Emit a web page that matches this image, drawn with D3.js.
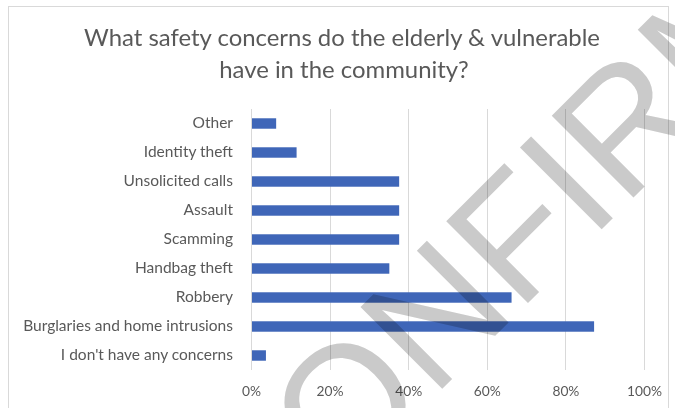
<!DOCTYPE html>
<html>
<head>
<meta charset="utf-8">
<script src="https://cdn.jsdelivr.net/npm/d3@7"></script>
<style>
  html, body { margin: 0; padding: 0; background: #fff; }
  svg { display: block; }
</style>
</head>
<body>
<svg id="chart" width="675" height="408"></svg>
<script>
// Survey responses, share of respondents per concern
const categories = [
  "Other",
  "Identity theft",
  "Unsolicited calls ",
  "Assault",
  "Scamming",
  "Handbag theft",
  "Robbery ",
  "Burglaries and home intrusions",
  "I don't have any concerns"
];
const values = [0.064, 0.116, 0.377, 0.377, 0.377, 0.352, 0.663, 0.873, 0.038];
const tickValues = [0, 0.2, 0.4, 0.6, 0.8, 1.0];
const tickLabels = ["0%", "20%", "40%", "60%", "80%", "100%"];
const titleLines = ["What safety concerns do the elderly & vulnerable", "have in the community?"];
const stampText = "CONFIRMED";

const W = 675, H = 408;
const textColor = "#595959";
const barColor = "#3f66b8";
const gridColor = "#d9d9d9";
const font = "Lato, 'Open Sans', sans-serif";

const svg = d3.select("#chart");

// scale a text element's font size so it spans a given width
function fitWidth(sel, target) {
  const node = sel.node();
  const fs = parseFloat(sel.attr("font-size"));
  const w = node.getComputedTextLength();
  sel.attr("font-size", (fs * target / w).toFixed(2));
}

// chart frame
svg.append("rect")
  .attr("x", 8.5).attr("y", 6.5)
  .attr("width", 660).attr("height", 430)
  .attr("fill", "#fff")
  .attr("stroke", gridColor).attr("stroke-width", 1);

// title
const titleG = svg.append("g").attr("fill", textColor).attr("font-family", font);
const t1 = titleG.append("text").attr("x", 342).attr("y", 46)
  .attr("text-anchor", "middle").attr("font-size", 22).text(titleLines[0]);
fitWidth(t1, 516);
titleG.append("text").attr("x", 344).attr("y", 78)
  .attr("text-anchor", "middle").attr("font-size", t1.attr("font-size")).text(titleLines[1]);

// scales
const x = d3.scaleLinear().domain([0, 1]).range([251, 644]);
const y = d3.scaleBand().domain(categories).range([109, 370]).paddingInner(0.64).paddingOuter(0.32);

// vertical gridlines
svg.append("g")
  .selectAll("line").data(tickValues).join("line")
  .attr("x1", d => Math.round(x(d)) + 0.5).attr("x2", d => Math.round(x(d)) + 0.5)
  .attr("y1", 109).attr("y2", 370)
  .attr("stroke", gridColor).attr("stroke-width", 1);

// bars
svg.append("g")
  .selectAll("rect").data(values).join("rect")
  .attr("x", x(0) + 1)
  .attr("y", (d, i) => y(categories[i]))
  .attr("width", d => x(d) - x(0) - 1)
  .attr("height", y.bandwidth())
  .attr("fill", barColor);

// category axis
const yAxis = svg.append("g")
  .attr("transform", "translate(233,0)")
  .call(d3.axisLeft(y).tickSize(0).tickPadding(0));
yAxis.select(".domain").remove();
yAxis.selectAll("text")
  .attr("fill", textColor).attr("font-family", font).attr("font-size", 12.5);
// size labels from the longest one
const longest = yAxis.selectAll("text").filter(d => d === "Burglaries and home intrusions");
fitWidth(longest, 210);
yAxis.selectAll("text").attr("font-size", longest.attr("font-size"));

// value axis
const xAxis = svg.append("g")
  .attr("transform", "translate(0,386)")
  .call(d3.axisBottom(x).tickValues(tickValues).tickFormat((d, i) => tickLabels[i]).tickSize(0).tickPadding(0));
xAxis.select(".domain").remove();
xAxis.selectAll("text")
  .attr("fill", textColor).attr("font-family", font).attr("font-size", 12.5);
const wide = xAxis.selectAll("text").filter(d => d === 1);
fitWidth(wide, 35);
xAxis.selectAll("text").attr("font-size", wide.attr("font-size"));

// approval stamp across the plot
const stamp = svg.append("g")
  .attr("transform", "translate(441,390) rotate(-45)")
  .style("mix-blend-mode", "multiply");
const st = stamp.append("text")
  .attr("x", 0).attr("y", 0)
  .attr("font-family", "'Liberation Sans', Arial, sans-serif")
  .attr("font-size", 168)
  .attr("fill", "#cacaca")
  .text(stampText);
const nStart = st.node().getStartPositionOfChar(2).x;
st.attr("x", -nStart - 12);
</script>
</body>
</html>
